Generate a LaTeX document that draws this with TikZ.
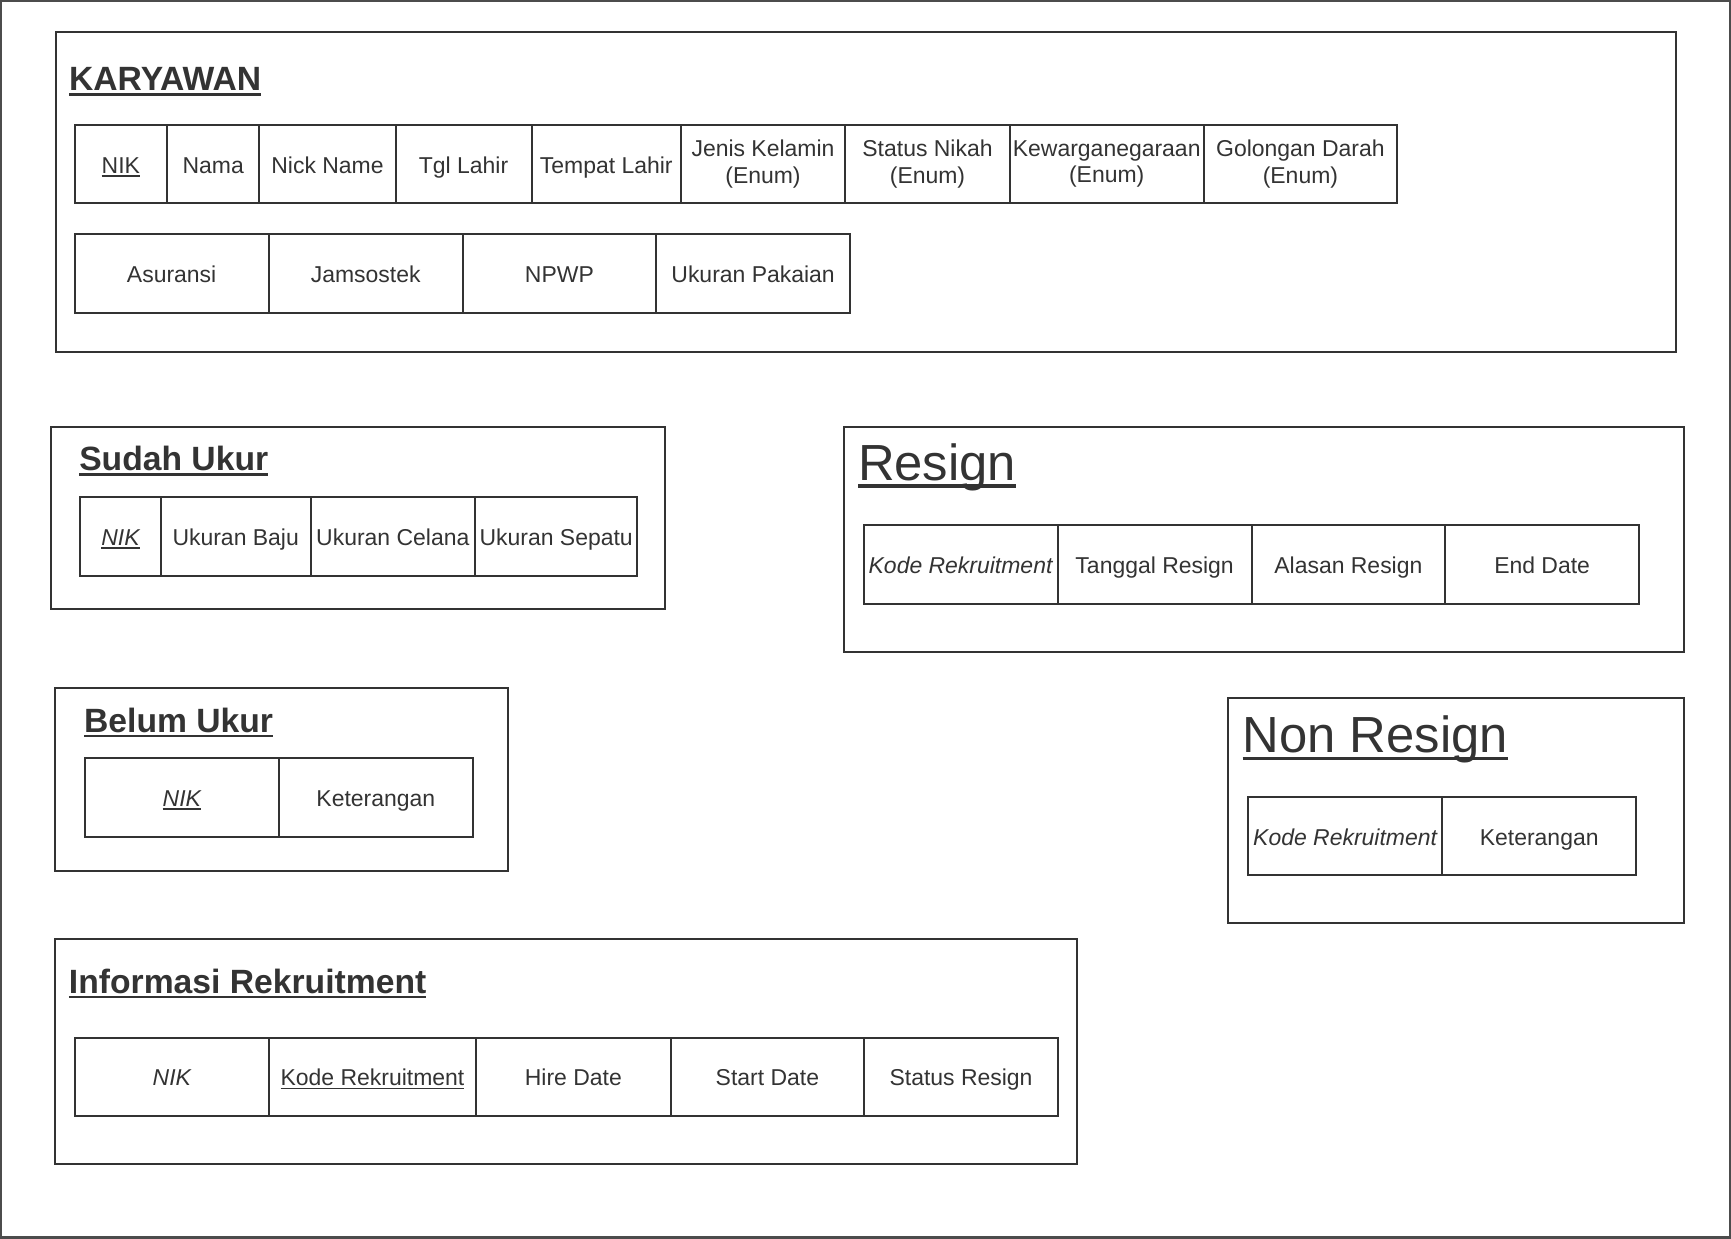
\documentclass[tikz,border=0pt]{standalone}
\usepackage{fontspec}
\setmainfont{Liberation Sans}
\usetikzlibrary{positioning}
\definecolor{ink}{HTML}{333333}
\newcommand{\ulkey}[1]{\setbox0\hbox{#1}\rlap{\copy0}\rule[-0.15em]{\wd0}{0.065em}}

\begin{document}
\begin{tikzpicture}[
		x=1pt, y=-1pt,
		frame/.style={draw=ink, line width=1.8pt, inner sep=0pt, outer sep=0pt,
		anchor=north west},
		cellbase/.style={draw=ink, line width=1.8pt, inner sep=1pt, outer sep=0pt,
		minimum height=71pt, text=ink, align=center,
		font=\fontsize{20.8}{24}\selectfont},
		cell/.style={cellbase, text height=20pt, text depth=3.8pt},
		enumcell/.style={cellbase},
		title/.style={anchor=base west, inner sep=0pt, text=ink,
		font=\fontsize{30.5}{34}\selectfont\bfseries},
		bigtitle/.style={anchor=base west, inner sep=0pt, text=ink,
		font=\fontsize{46}{50}\selectfont}
		]
		\useasboundingbox (0,0) rectangle (1568,1122);
		\draw[draw=black!70, line width=2pt] (1,1) rectangle (1567,1121);

		\node[frame, minimum width=1467.6pt, minimum height=289.2pt] (karyawan) at (50.4,29.3) {};
		\node[title] (karyawanT) at (62.4,82) {\ulkey{KARYAWAN}};
		\node[cell, anchor=north west, minimum width=83.7pt] (k1) at (67.6,113.2) {\ulkey{NIK}};
		\node[cell, right=0pt of k1, minimum width=83.7pt] (k2) {Nama};
		\node[cell, right=0pt of k2, minimum width=123.3pt] (k3) {Nick Name};
		\node[cell, right=0pt of k3, minimum width=123.2pt] (k4) {Tgl Lahir};
		\node[cell, right=0pt of k4, minimum width=135.3pt] (k5) {Tempat Lahir};
		\node[enumcell, right=0pt of k5, minimum width=148.7pt] (k6) {Jenis Kelamin\\(Enum)};
		\node[enumcell, right=0pt of k6, minimum width=149.3pt] (k7) {Status Nikah\\(Enum)};
		\node[enumcell, right=0pt of k7, minimum width=175.4pt] (k8) {Kewarganegaraan\\(Enum)};
		\node[enumcell, right=0pt of k8, minimum width=175.5pt] (k9) {Golongan Darah\\(Enum)};
		\node[cell, anchor=north west, minimum width=175.8pt] (k10) at (67.6,212.3) {Asuransi};
		\node[cell, right=0pt of k10, minimum width=175.7pt] (k11) {Jamsostek};
		\node[cell, right=0pt of k11, minimum width=175.2pt] (k12) {NPWP};
		\node[cell, right=0pt of k12, minimum width=175.8pt] (k13) {Ukuran Pakaian};

		\node[frame, minimum width=556pt, minimum height=164.8pt] (sudah) at (46.5,387.1) {};
		\node[title] (sudahT) at (71.6,426.3) {\ulkey{Sudah Ukur}};
		\node[cell, anchor=north west, minimum width=72.8pt] (s1) at (72.8,450.5) {\ulkey{\itshape NIK}};
		\node[cell, right=0pt of s1, minimum width=135.8pt] (s2) {Ukuran Baju};
		\node[cell, right=0pt of s2, minimum width=148.8pt] (s3) {Ukuran Celana};
		\node[cell, right=0pt of s3, minimum width=147.2pt] (s4) {Ukuran Sepatu};

		\node[frame, minimum width=410.1pt, minimum height=165.1pt] (belum) at (50.1,623.5) {};
		\node[title] (belumT) at (76,663.4) {\ulkey{Belum Ukur}};
		\node[cell, anchor=north west, minimum width=175.9pt] (b1) at (76.8,686.9) {\ulkey{\itshape NIK}};
		\node[cell, right=0pt of b1, minimum width=175.5pt] (b2) {Keterangan};

		\node[frame, minimum width=925.2pt, minimum height=203.8pt] (info) at (50.2,850.8) {};
		\node[title] (infoT) at (62.3,899.8) {\ulkey{Informasi Rekruitment}};
		\node[cell, anchor=north west, minimum width=175.4pt] (i1) at (68,939.9) {\itshape NIK};
		\node[cell, right=0pt of i1, minimum width=188pt] (i2) {\ulkey{Kode Rekruitment}};
		\node[cell, right=0pt of i2, minimum width=176pt] (i3) {Hire Date};
		\node[cell, right=0pt of i3, minimum width=175.5pt] (i4) {Start Date};
		\node[cell, right=0pt of i4, minimum width=175.3pt] (i5) {Status Resign};

		\node[frame, minimum width=761pt, minimum height=203.6pt] (resign) at (764.3,386.8) {};
		\node[bigtitle] (resignT) at (777,434.8) {\ulkey{Resign}};
		\node[cell, anchor=north west, minimum width=175.8pt] (r1) at (782.2,475.7) {\itshape Kode Rekruitment};
		\node[cell, right=0pt of r1, minimum width=175.8pt] (r2) {Tanggal Resign};
		\node[cell, right=0pt of r2, minimum width=175.2pt] (r3) {Alasan Resign};
		\node[cell, right=0pt of r3, minimum width=175.8pt] (r4) {End Date};

		\node[frame, minimum width=412.6pt, minimum height=203.6pt] (nonresign) at (1112.7,632.7) {};
		\node[bigtitle] (nonresignT) at (1125.4,681.6) {\ulkey{Non Resign}};
		\node[cell, anchor=north west, minimum width=175.7pt] (n1) at (1130.6,721.9) {\itshape Kode Rekruitment};
		\node[cell, right=0pt of n1, minimum width=175.9pt] (n2) {Keterangan};
	\end{tikzpicture}
\end{document}
